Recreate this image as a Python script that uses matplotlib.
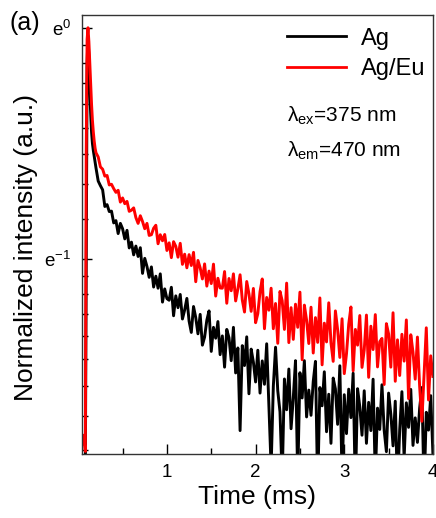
import numpy as np
import matplotlib
matplotlib.use('Agg')
import matplotlib.pyplot as plt
from matplotlib.ticker import FixedLocator, NullFormatter

plt.rcParams['font.family'] = ['Liberation Sans', 'DejaVu Sans']
plt.rcParams['mathtext.fontset'] = 'custom'
plt.rcParams['mathtext.rm'] = 'Liberation Sans'
plt.rcParams['mathtext.it'] = 'Liberation Sans'

# time (ms)
time = [0.040, 0.060, 0.080, 0.090, 0.100, 0.110, 0.120, 0.130, 0.140, 0.150,
        0.160, 0.170, 0.180, 0.190, 0.200,
        0.225, 0.250, 0.275, 0.300, 0.325, 0.350, 0.375, 0.400,
        0.425, 0.450, 0.475, 0.500, 0.525, 0.550, 0.575, 0.600,
        0.625, 0.650, 0.675, 0.700, 0.725, 0.750, 0.775, 0.800,
        0.825, 0.850, 0.875, 0.900, 0.925, 0.950, 0.975, 1.000,
        1.025, 1.050, 1.075, 1.100, 1.125, 1.150, 1.175, 1.200,
        1.225, 1.250, 1.275, 1.300, 1.325, 1.350, 1.375, 1.400,
        1.425, 1.450, 1.475, 1.500, 1.525, 1.550, 1.575, 1.600,
        1.625, 1.650, 1.675, 1.700, 1.725, 1.750, 1.775, 1.800,
        1.825, 1.850, 1.875, 1.900, 1.925, 1.950, 1.975, 2.000,
        2.025, 2.050, 2.075, 2.100, 2.125, 2.150, 2.175, 2.200,
        2.225, 2.250, 2.275, 2.300, 2.325, 2.350, 2.375, 2.400,
        2.425, 2.450, 2.475, 2.500, 2.525, 2.550, 2.575, 2.600,
        2.625, 2.650, 2.675, 2.700, 2.725, 2.750, 2.775, 2.800,
        2.825, 2.850, 2.875, 2.900, 2.925, 2.950, 2.975, 3.000,
        3.025, 3.050, 3.075, 3.100, 3.125, 3.150, 3.175, 3.200,
        3.225, 3.250, 3.275, 3.300, 3.325, 3.350, 3.375, 3.400,
        3.425, 3.450, 3.475, 3.500, 3.525, 3.550, 3.575, 3.600,
        3.625, 3.650, 3.675, 3.700, 3.725, 3.750, 3.775, 3.800,
        3.825, 3.850, 3.875, 3.900, 3.925, 3.950, 3.975, 4.000]

# ln(normalized intensity), Ag
ln_ag = [-1.90, -1.87, -1.92, -1.00, -0.15, -0.04, -0.12, -0.27, -0.37, -0.45,
         -0.50, -0.53, -0.555, -0.58, -0.605,
         -0.662, -0.682, -0.700, -0.772, -0.764, -0.794, -0.792, -0.843,
         -0.833, -0.889, -0.845, -0.868, -0.912, -0.875, -0.951, -0.926,
         -0.981, -0.943, -0.988, -0.950, -1.061, -0.996, -1.031, -1.078,
         -1.033, -1.120, -1.073, -1.125, -1.063, -1.185, -1.128, -1.170,
         -1.177, -1.121, -1.244, -1.158, -1.209, -1.152, -1.258, -1.219,
         -1.169, -1.267, -1.316, -1.204, -1.252, -1.322, -1.238, -1.371,
         -1.336, -1.263, -1.223, -1.398, -1.294, -1.341, -1.269, -1.412,
         -1.331, -1.466, -1.303, -1.339, -1.438, -1.294, -1.491, -1.383,
         -1.740, -1.373, -1.459, -1.335, -1.581, -1.388, -1.444, -1.530,
         -1.393, -1.578, -1.439, -1.540, -1.365, -1.634, -1.900, -1.548,
         -1.380, -1.568, -1.659, -1.950, -1.517, -1.650, -1.474, -1.732,
         -1.599, -1.438, -1.950, -1.490, -1.599, -1.438, -1.681, -1.565,
         -1.674, -1.528, -1.441, -2.000, -1.554, -1.633, -1.486, -1.745,
         -1.583, -1.795, -1.513, -1.560, -1.713, -1.460, -1.950, -1.585,
         -1.753, -1.561, -1.684, -1.492, -2.000, -1.559, -1.637, -1.760,
         -1.568, -1.795, -1.618, -1.740, -1.518, -1.950, -1.643, -1.735,
         -1.542, -1.739, -1.831, -1.578, -1.669, -1.806, -1.613, -2.000,
         -1.736, -1.572, -1.859, -1.620, -1.726, -1.562, -1.804, -1.685,
         -1.791, -1.643, -1.554, -2.000, -1.661, -1.738, -1.589, -1.845]

# ln(normalized intensity), Ag/Eu
ln_ageu = [-1.80, -1.76, -1.83, -0.55, -0.05, 0.00, -0.06, -0.15, -0.25, -0.33,
           -0.40, -0.45, -0.49, -0.52, -0.54,
           -0.558, -0.601, -0.611, -0.641, -0.638, -0.679, -0.676, -0.695,
           -0.711, -0.702, -0.753, -0.735, -0.760, -0.750, -0.793, -0.788,
           -0.778, -0.820, -0.845, -0.812, -0.837, -0.868, -0.845, -0.897,
           -0.894, -0.866, -0.853, -0.933, -0.894, -0.920, -0.893, -0.962,
           -0.929, -0.993, -0.924, -0.944, -0.991, -0.931, -1.022, -0.978,
           -1.037, -0.980, -1.027, -0.970, -1.097, -1.005, -1.037, -1.085,
           -1.020, -1.116, -1.051, -1.105, -1.021, -1.159, -1.082, -1.124,
           -1.125, -1.053, -1.190, -1.083, -1.136, -1.063, -1.180, -1.128,
           -1.067, -1.176, -1.228, -1.096, -1.149, -1.225, -1.126, -1.274,
           -1.235, -1.140, -1.085, -1.300, -1.165, -1.220, -1.125, -1.300,
           -1.191, -1.363, -1.139, -1.179, -1.303, -1.103, -1.360, -1.209,
           -1.346, -1.194, -1.294, -1.142, -1.434, -1.198, -1.263, -1.364,
           -1.207, -1.405, -1.252, -1.359, -1.167, -1.456, -1.276, -1.357,
           -1.188, -1.360, -1.441, -1.223, -1.304, -1.424, -1.257, -1.494,
           -1.408, -1.281, -1.206, -1.482, -1.303, -1.371, -1.243, -1.467,
           -1.392, -1.241, -1.510, -1.289, -1.390, -1.239, -1.465, -1.356,
           -1.342, -1.541, -1.278, -1.323, -1.466, -1.231, -1.527, -1.348,
           -1.502, -1.324, -1.440, -1.262, -1.602, -1.326, -1.401, -1.518,
           -1.336, -1.550, -1.700, -1.502, -1.296, -1.608, -1.417, -1.506]

fig = plt.figure(figsize=(4.36, 5.18), dpi=100)
ax = fig.add_axes([0.188, 0.1236, 0.805, 0.8474])

ax.plot(time, np.exp(ln_ag), color='black', lw=2.1, label='Ag')
ax.plot(time, np.exp(ln_ageu), color='#ff0000', lw=2.1, label='Ag/Eu')

ax.set_yscale('log', base=np.e)
ax.set_ylim(np.exp(-1.841), np.exp(0.055))
ax.set_xlim(0.042, 4.0)

ax.yaxis.set_major_locator(FixedLocator([np.exp(-1), 1.0]))
ax.set_yticklabels(['e$^{-1}$', 'e$^{0}$'])
minor_y = list(np.linspace(np.exp(-2), np.exp(-1), 10)[1:-1]) + list(np.linspace(np.exp(-1), 1, 10)[1:-1])
ax.yaxis.set_minor_locator(FixedLocator(minor_y))
ax.yaxis.set_minor_formatter(NullFormatter())

ax.set_xticks([1, 2, 3, 4])
ax.set_xticklabels(['1', '2', '3', '4'])
ax.xaxis.set_minor_locator(FixedLocator([0.5, 1.5, 2.5, 3.5]))

ax.tick_params(which='both', direction='in', top=False, right=False, labelsize=13.5)
ax.tick_params(which='major', length=7, width=1)
ax.tick_params(which='minor', length=4, width=1)
ax.tick_params(axis='x', pad=7)
ax.tick_params(axis='y', pad=8)
for s in ax.spines.values():
    s.set_linewidth(1.0)
    s.set_color('#333333')

ax.set_xlabel('Time (ms)', fontsize=19, labelpad=3)
ax.set_ylabel('Normalized intensity (a.u.)', fontsize=19)
ax.yaxis.set_label_coords(-0.125, 0.47)

leg = ax.legend(loc='upper right', bbox_to_anchor=(0.98, 0.9715), frameon=False,
                fontsize=17, handlelength=2.5, handletextpad=0.64, labelspacing=0.35,
                borderpad=0, borderaxespad=0)
for h in leg.get_lines():
    h.set_linewidth(2.0)

ax.text(0.584, 0.756, 'λ$_{\\mathrm{ex}}$=375 nm', transform=ax.transAxes,
        fontsize=15, va='baseline', ha='left')
ax.text(0.584, 0.677, 'λ$_{\\mathrm{em}}$=470 nm', transform=ax.transAxes,
        fontsize=15, va='baseline', ha='left')

fig.text(0.022, 0.978, '(a)', fontsize=18, va='top', ha='left')

fig.savefig('out.png', dpi=100)
